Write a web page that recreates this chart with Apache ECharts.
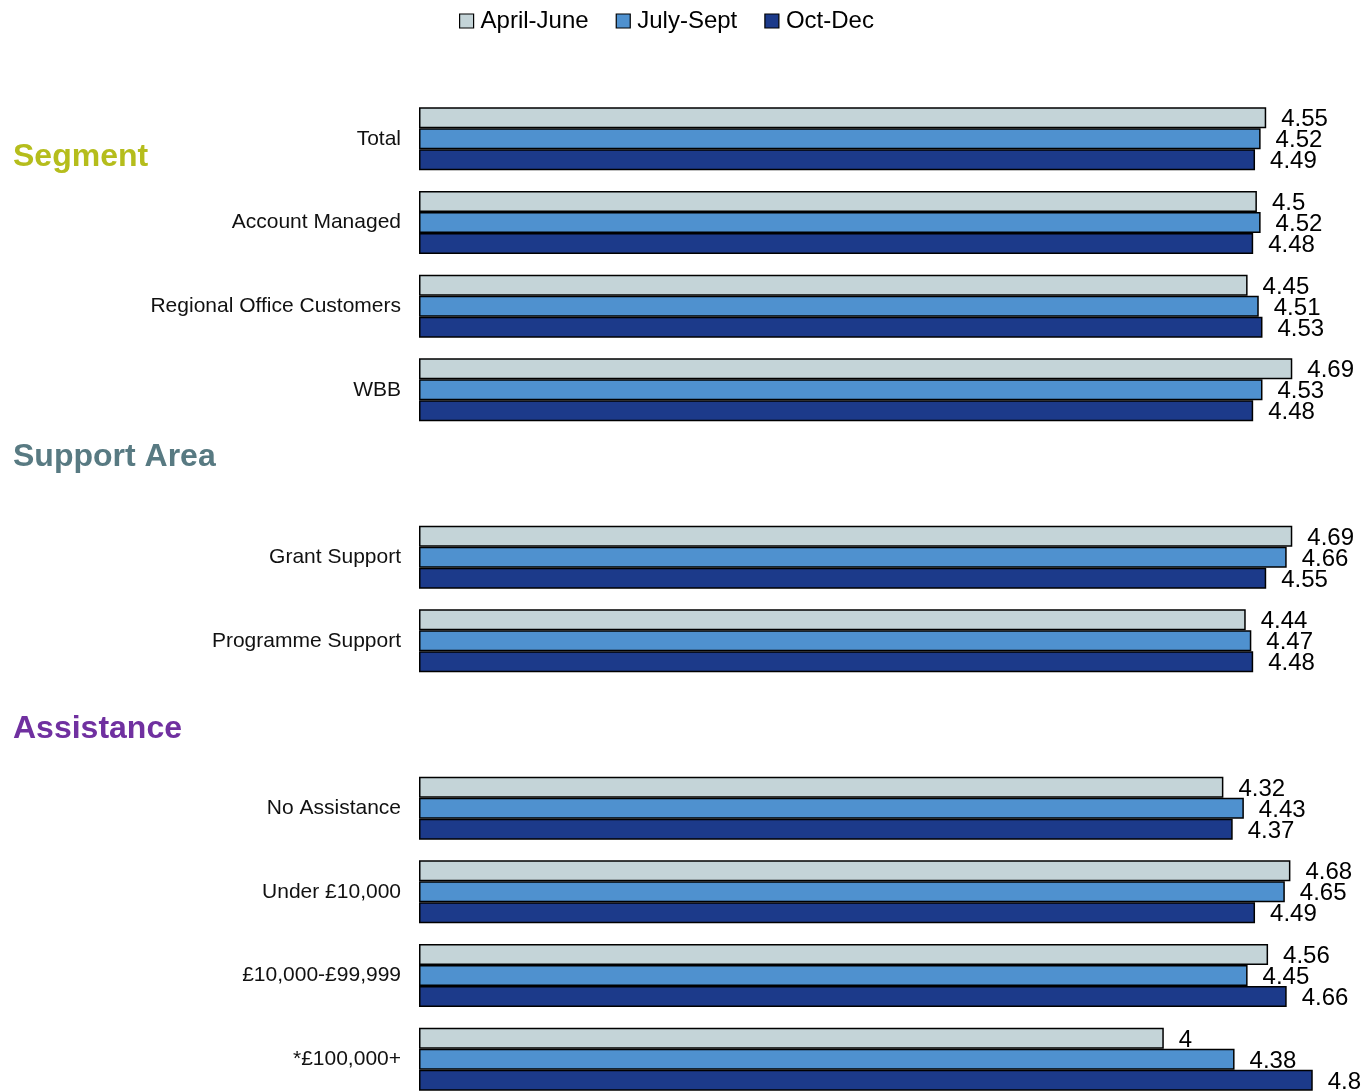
<!DOCTYPE html>
<html>
<head>
<meta charset="utf-8">
<title>Satisfaction by quarter</title>
<script src="https://cdn.jsdelivr.net/npm/echarts@6/dist/echarts.min.js"></script>
<style>
  html, body { margin: 0; padding: 0; background: #ffffff; overflow: hidden; }
  /* the last row runs slightly past the bottom of the page */
  #chart { width: 1361px; height: 1110px; }
</style>
</head>
<body>
<div id="chart"></div>
<script>
// Row labels; empty strings leave a gap row under each section heading
const categories = [
  'Total', 'Account Managed', 'Regional Office Customers', 'WBB',
  '',
  'Grant Support', 'Programme Support',
  '',
  'No Assistance', 'Under £10,000', '£10,000-£99,999', '*£100,000+'
];

const seriesNames = ['April-June', 'July-Sept', 'Oct-Dec'];

const aprilJune = [4.55, 4.5, 4.45, 4.69, null, 4.69, 4.44, null, 4.32, 4.68, 4.56, 4];
const julySept  = [4.52, 4.52, 4.51, 4.53, null, 4.66, 4.47, null, 4.43, 4.65, 4.45, 4.38];
const octDec    = [4.49, 4.48, 4.53, 4.48, null, 4.55, 4.48, null, 4.37, 4.49, 4.66, 4.8];

const sectionHeadings = [
  { text: 'Segment', color: '#b5bd1c', y: 159 },
  { text: 'Support Area', color: '#587a82', y: 459 },
  { text: 'Assistance', color: '#7030a0', y: 731 }
];

const palette = ['#c4d4d8', '#4f91cf', '#1c3a8a'];
const seriesData = [aprilJune, julySept, octDec];

const chart = echarts.init(document.getElementById('chart'), null, { renderer: 'canvas' });

const series = seriesNames.map((name, i) => ({
  name: name,
  type: 'bar',
  data: seriesData[i],
  barWidth: 21,
  barGap: '0%',
  itemStyle: { color: palette[i], borderColor: '#000000', borderWidth: 1.5 },
  label: {
    show: true,
    position: 'right',
    distance: 15,
    offset: [0, 2],
    color: '#000000',
    fontFamily: '"Liberation Sans", Arial, sans-serif',
    fontSize: 24
  },
  emphasis: { disabled: true },
  animation: false
}));

chart.setOption({
  backgroundColor: '#ffffff',
  animation: false,
  legend: {
    data: seriesNames,
    left: 459,
    top: 9,
    padding: 0,
    icon: 'rect',
    itemWidth: 14,
    itemHeight: 14,
    itemGap: 27,
    itemStyle: { borderColor: '#000000', borderWidth: 1.2 },
    textStyle: {
      color: '#000000',
      fontFamily: '"Liberation Sans", Arial, sans-serif',
      fontSize: 24,
      padding: [0, 0, 0, 2]
    }
  },
  grid: {
    left: 419,
    right: 11,
    top: 97,
    height: 1004,
    containLabel: false,
    outerBoundsMode: 'none'
  },
  xAxis: {
    type: 'value',
    min: 0,
    max: 5,
    show: false
  },
  yAxis: {
    type: 'category',
    data: categories,
    inverse: true,
    axisLine: { show: false },
    axisTick: { show: false },
    splitLine: { show: false },
    axisLabel: {
      margin: 18,
      color: '#111111',
      fontFamily: '"Liberation Sans", Arial, sans-serif',
      fontSize: 21
    }
  },
  graphic: sectionHeadings.map(h => ({
    type: 'text',
    left: 13,
    top: h.y - 18,
    style: {
      text: h.text,
      fill: h.color,
      font: 'bold 32px "Liberation Sans", Arial, sans-serif'
    }
  })),
  series: series
});
</script>
</body>
</html>
